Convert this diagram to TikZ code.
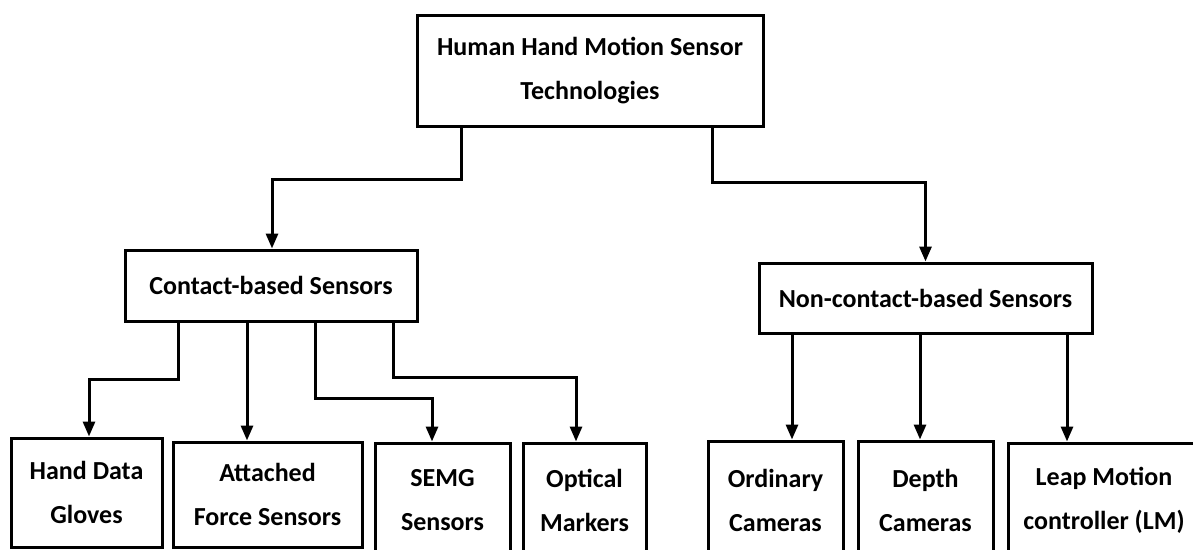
\documentclass[tikz,border=0pt]{standalone}
\usepackage{fontspec}
\setmainfont{Carlito}
\usetikzlibrary{arrows.meta}
\tikzstyle{BoxNode}=[rectangle, draw=black, line width=3pt, align=center, inner sep=0pt, font=\bfseries\fontsize{26}{44}\selectfont]
\tikzstyle{Link}=[-{Triangle[width=12pt,length=15pt]}, line width=3pt]

\begin{document}
\begin{tikzpicture}[x=1pt,y=-1pt]
\useasboundingbox (0,0) rectangle (1193,549);
\node[BoxNode, minimum width=346pt, minimum height=111pt](HHMS) at (590,70.5) {Human Hand Motion Sensor\\Technologies};
\node[BoxNode, minimum width=292pt, minimum height=71pt](CBS) at (271,285.5) {Contact-based Sensors};
\node[BoxNode, minimum width=333pt, minimum height=70pt](NCBS) at (925.5,298) {Non-contact-based Sensors};
\node[BoxNode, minimum width=151pt, minimum height=109pt](HDG) at (86.5,492.5) {Hand Data\\Gloves};
\node[BoxNode, minimum width=189pt, minimum height=105pt](AFS) at (267.5,494.5) {Attached\\Force Sensors};
\node[BoxNode, minimum width=135pt, minimum height=114pt](SEMG) at (442.5,500) {SEMG\\Sensors};
\node[BoxNode, minimum width=123pt, minimum height=114pt](OM) at (584.5,500) {Optical\\Markers};
\node[BoxNode, minimum width=135pt, minimum height=118pt](OC) at (775.5,500) {Ordinary\\Cameras};
\node[BoxNode, minimum width=135pt, minimum height=118pt](DC) at (925.5,500) {Depth\\Cameras};
\node[BoxNode, minimum width=192pt, minimum height=114pt](LMC) at (1104,500) {Leap Motion\\controller (LM)};

\draw[Link](HHMS.south -| 461,0) -- ++(0,52) -| (CBS.north -| 272,0);
\draw[Link](HHMS.south -| 712,0) -- ++(0,55) -| (NCBS.north);
\draw[Link](CBS.south -| 178,0) -- ++(0,57) -| (HDG.north -| 89,0);
\draw[Link](CBS.south -| 247,0) -- (AFS.north -| 247,0);
\draw[Link](CBS.south -| 315,0) -- ++(0,76) -| (SEMG.north -| 432,0);
\draw[Link](CBS.south -| 393,0) -- ++(0,55) -| (OM.north -| 576,0);
\draw[Link](NCBS.south -| 792,0) -- (OC.north -| 792,0);
\draw[Link](NCBS.south -| 920,0) -- (DC.north -| 920,0);
\draw[Link](NCBS.south -| 1067,0) -- (LMC.north -| 1067,0);
\end{tikzpicture}
\end{document}
